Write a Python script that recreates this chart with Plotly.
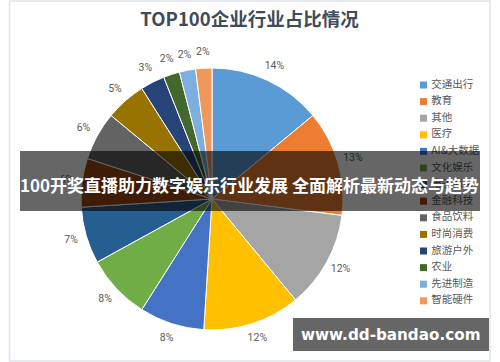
import numpy as np
import plotly.graph_objects as go

# ---- data ----
categories = ["交通出行", "教育", "其他", "医疗", "AI&大数据", "文化娱乐", "电子商务",
              "金融科技", "食品饮料", "时尚消费", "旅游户外", "农业", "先进制造", "智能硬件"]
values = [14, 13, 12, 12, 8, 8, 7, 6, 6, 5, 3, 2, 2, 2]
colors = ["#5B9BD5", "#ED7D31", "#A5A5A5", "#FFC000", "#4472C4", "#70AD47", "#255E91",
          "#9E480E", "#636363", "#997300", "#264478", "#43682B", "#7CAFDD", "#F1975A"]
title_text = "TOP100企业行业占比情况"
banner_text = "100开奖直播助力数字娱乐行业发展 全面解析最新动态与趋势"
watermark_text = "www.dd-bandao.com"

# ---- layout constants ----
W, H = 500, 362
CX, CY, R = 212, 199, 131          # pie centre / radius in px (from top-left)
LABEL_R = 1.12                     # label radius relative to R
POLAR_MAX = 1.2
LEG_X, LEG_Y0, LEG_DY = 423.5, 85, 16.6

def px_dom_x(a, b):
    return [a / W, b / W]

def px_dom_y(top, bottom):
    return [(H - bottom) / H, (H - top) / H]

vals = np.array(values, dtype=float)
total = vals.sum()
mid_theta = (np.cumsum(vals) - vals / 2) / total * 360
pct_text = [f"{round(v / total * 100)}%" for v in vals]

fig = go.Figure()

fig.add_trace(go.Pie(
    labels=categories, values=values, sort=False, direction="clockwise",
    marker=dict(colors=colors, line=dict(color="white", width=1)),
    textinfo="none", showlegend=False, hoverinfo="label+percent",
    domain=dict(x=px_dom_x(CX - R, CX + R), y=px_dom_y(CY - R, CY + R)),
))

# percentage labels placed radially outside each slice
fig.add_trace(go.Scatterpolar(
    r=[LABEL_R] * len(values), theta=mid_theta, mode="text", text=pct_text,
    textfont=dict(family="Roboto", size=10.5, color="#595959"),
    cliponaxis=False, showlegend=False, hoverinfo="skip",
))

# legend drawn as a scatter column
idx = list(range(len(categories)))
fig.add_trace(go.Scatter(
    x=[LEG_X] * len(categories), y=idx, mode="markers+text",
    marker=dict(symbol="square", size=7, color=colors),
    text=[" " + c for c in categories], textposition="middle right",
    textfont=dict(family="Noto Sans CJK SC", size=10.5, color="#595959"),
    showlegend=False, hoverinfo="skip", cliponaxis=False,
))

span = H / LEG_DY
ytop = -LEG_Y0 / H * span
ybot = ytop + span

PR = R * POLAR_MAX
fig.update_layout(
    width=W, height=H, margin=dict(l=0, r=0, t=0, b=0),
    paper_bgcolor="white", plot_bgcolor="rgba(0,0,0,0)",
    title=dict(text=f"<b>{title_text}</b>", x=249.5 / W, xanchor="center",
               y=1 - 20 / H, yanchor="middle",
               font=dict(family="Noto Sans CJK SC", size=18.5, color="#404b5a")),
    polar=dict(domain=dict(x=px_dom_x(CX - PR, CX + PR), y=px_dom_y(CY - PR, CY + PR)),
               bgcolor="rgba(0,0,0,0)",
               angularaxis=dict(visible=False, rotation=90, direction="clockwise"),
               radialaxis=dict(visible=False, range=[0, POLAR_MAX])),
    xaxis=dict(visible=False, range=[0, W], domain=[0, 1], fixedrange=True),
    yaxis=dict(visible=False, range=[ybot, ytop], domain=[0, 1], fixedrange=True),
    shapes=[
        dict(type="rect", xref="paper", yref="paper", layer="below",
             x0=9.5 / W, x1=490 / W, y0=(H - 361) / H, y1=(H - 1) / H,
             line=dict(color="#dfe4ea", width=1.5), fillcolor="rgba(0,0,0,0)"),
        dict(type="rect", xref="paper", yref="paper", layer="above",
             x0=20 / W, x1=480 / W, y0=(H - 211) / H, y1=(H - 151) / H,
             line=dict(width=0), fillcolor="rgba(0,0,0,0.6)"),
        dict(type="rect", xref="paper", yref="paper", layer="above",
             x0=293 / W, x1=489 / W, y0=(H - 351) / H, y1=(H - 318) / H,
             line=dict(width=0), fillcolor="rgba(0,0,0,0.6)"),
    ],
    annotations=[
        dict(text=f"<b>{banner_text}</b>", xref="paper", yref="paper",
             x=249 / W, y=1 - 184 / H, xanchor="center", yanchor="middle",
             showarrow=False,
             font=dict(family="Noto Sans CJK SC", size=17, color="white")),
        dict(text=f"<b>{watermark_text}</b>", xref="paper", yref="paper",
             x=390 / W, y=1 - 335 / H, xanchor="center", yanchor="middle",
             showarrow=False,
             font=dict(family="DejaVu Sans", size=15.2, color="white")),
    ],
)

fig.write_html(
    "out.html",
    config={"displayModeBar": False},
    post_script="document.body.style.margin='0';document.body.style.overflow='hidden';",
)
